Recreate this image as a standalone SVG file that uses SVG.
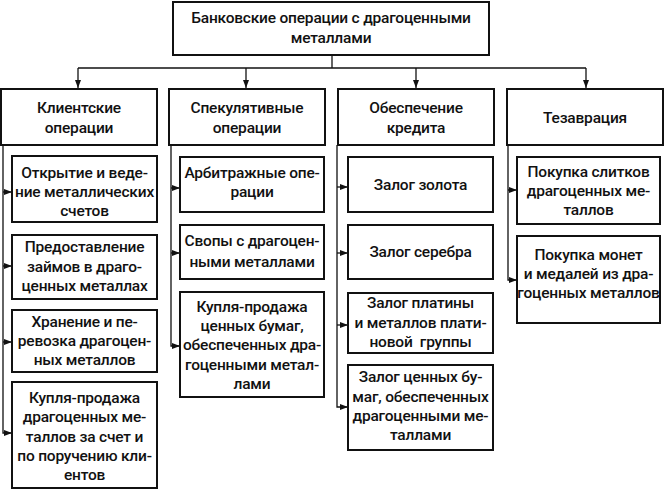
<svg xmlns="http://www.w3.org/2000/svg" width="664" height="491" viewBox="0 0 664 491">
<style>
.box{fill:#fff;stroke:#111;stroke-width:2}
.t{font-family:Roboto,"Liberation Sans",sans-serif;font-size:15.5px;font-weight:500;letter-spacing:-0.2px;fill:#111;text-anchor:middle}
.c{fill:none;stroke:#111;stroke-width:1.3}
</style>
<defs>
<marker id="ar" markerUnits="userSpaceOnUse" markerWidth="9" markerHeight="7" refX="8" refY="3" orient="auto">
<path d="M0,0 L8,3 L0,6 z" fill="#111"/>
</marker>
</defs>
<rect width="664" height="491" fill="#fff"/>
<g id="connectors">
<path class="c" d="M332,55 V68"/>
<path class="c" d="M78,68 H586"/>
<path class="c" d="M78,68 V88" marker-end="url(#ar)"/>
<path class="c" d="M246,68 V88" marker-end="url(#ar)"/>
<path class="c" d="M416,68 V88" marker-end="url(#ar)"/>
<path class="c" d="M586,68 V88" marker-end="url(#ar)"/>
<path class="c" d="M3,145 V433 H12" marker-end="url(#ar)"/>
<path class="c" d="M3,192 H12" marker-end="url(#ar)"/>
<path class="c" d="M3,266 H12" marker-end="url(#ar)"/>
<path class="c" d="M3,342 H12" marker-end="url(#ar)"/>
<path class="c" d="M171,145 V346 H180" marker-end="url(#ar)"/>
<path class="c" d="M171,188 H180" marker-end="url(#ar)"/>
<path class="c" d="M171,253 H180" marker-end="url(#ar)"/>
<path class="c" d="M337,145 V407 H348" marker-end="url(#ar)"/>
<path class="c" d="M337,187 H348" marker-end="url(#ar)"/>
<path class="c" d="M337,253 H348" marker-end="url(#ar)"/>
<path class="c" d="M337,325 H348" marker-end="url(#ar)"/>
<path class="c" d="M508,145 V280 H517" marker-end="url(#ar)"/>
<path class="c" d="M508,190 H517" marker-end="url(#ar)"/>
</g>
<g id="root">
<rect class="box" x="173" y="2" width="316" height="53"/>
<text class="t" x="331" y="23">Банковские операции с драгоценными</text>
<text class="t" x="331" y="43">металлами</text>
</g>
<g id="cat1">
<rect class="box" x="1" y="89" width="156" height="56"/>
<text class="t" x="79" y="113">Клиентские</text>
<text class="t" x="79" y="133">операции</text>
</g>
<g id="cat2">
<rect class="box" x="169" y="89" width="156" height="56"/>
<text class="t" x="247" y="113">Спекулятивные</text>
<text class="t" x="247" y="133">операции</text>
</g>
<g id="cat3">
<rect class="box" x="338" y="89" width="156" height="56"/>
<text class="t" x="416" y="113">Обеспечение</text>
<text class="t" x="416" y="133">кредита</text>
</g>
<g id="cat4">
<rect class="box" x="507" y="89" width="156" height="56"/>
<text class="t" x="585" y="123">Тезаврация</text>
</g>
<g id="c1b1">
<rect class="box" x="12" y="156" width="145" height="66"/>
<text class="t" x="84.5" y="178">Открытие и веде-</text>
<text class="t" x="84.5" y="197">ние металлических</text>
<text class="t" x="84.5" y="216">счетов</text>
</g>
<g id="c1b2">
<rect class="box" x="12" y="235" width="145" height="64"/>
<text class="t" x="84.5" y="252">Предоставление</text>
<text class="t" x="84.5" y="272">займов в драго-</text>
<text class="t" x="84.5" y="291">ценных металлах</text>
</g>
<g id="c1b3">
<rect class="box" x="12" y="310" width="145" height="62"/>
<text class="t" x="84.5" y="327">Хранение и пе-</text>
<text class="t" x="84.5" y="346">ревозка драгоцен-</text>
<text class="t" x="84.5" y="365">ных металлов</text>
</g>
<g id="c1b4">
<rect class="box" x="12" y="382" width="145" height="106"/>
<text class="t" x="84.5" y="403">Купля-продажа</text>
<text class="t" x="84.5" y="422">драгоценных ме-</text>
<text class="t" x="84.5" y="442">таллов за счет и</text>
<text class="t" x="84.5" y="461">по поручению кли-</text>
<text class="t" x="84.5" y="480">ентов</text>
</g>
<g id="c2b1">
<rect class="box" x="180" y="157" width="144" height="55"/>
<text class="t" x="252" y="178">Арбитражные опе-</text>
<text class="t" x="252" y="197">рации</text>
</g>
<g id="c2b2">
<rect class="box" x="180" y="225" width="144" height="54"/>
<text class="t" x="252" y="246">Свопы с драгоцен-</text>
<text class="t" x="252" y="267">ными металлами</text>
</g>
<g id="c2b3">
<rect class="box" x="180" y="292" width="144" height="105"/>
<text class="t" x="252" y="312">Купля-продажа</text>
<text class="t" x="252" y="331">ценных бумаг,</text>
<text class="t" x="252" y="350">обеспеченных дра-</text>
<text class="t" x="252" y="370">гоценными метал-</text>
<text class="t" x="252" y="389">лами</text>
</g>
<g id="c3b1">
<rect class="box" x="348" y="157" width="145" height="55"/>
<text class="t" x="420.5" y="190">Залог золота</text>
</g>
<g id="c3b2">
<rect class="box" x="348" y="225" width="145" height="54"/>
<text class="t" x="420.5" y="257">Залог серебра</text>
</g>
<g id="c3b3">
<rect class="box" x="348" y="293" width="145" height="60"/>
<text class="t" x="420.5" y="308">Залог платины</text>
<text class="t" x="420.5" y="328">и металлов плати-</text>
<text class="t" x="420.5" y="347" xml:space="preserve">новой  группы</text>
</g>
<g id="c3b4">
<rect class="box" x="348" y="365" width="145" height="85"/>
<text class="t" x="420.5" y="382">Залог ценных бу-</text>
<text class="t" x="420.5" y="402">маг, обеспеченных</text>
<text class="t" x="420.5" y="421">драгоценными ме-</text>
<text class="t" x="420.5" y="440">таллами</text>
</g>
<g id="c4b1">
<rect class="box" x="517" y="157" width="143" height="67"/>
<text class="t" x="588.5" y="177">Покупка слитков</text>
<text class="t" x="588.5" y="196">драгоценных ме-</text>
<text class="t" x="588.5" y="215">таллов</text>
</g>
<g id="c4b2">
<rect class="box" x="517" y="236" width="143" height="87"/>
<text class="t" x="588.5" y="260">Покупка монет</text>
<text class="t" x="588.5" y="279">и медалей из дра-</text>
<text class="t" x="588.5" y="298">гоценных металлов</text>
</g>
</svg>
